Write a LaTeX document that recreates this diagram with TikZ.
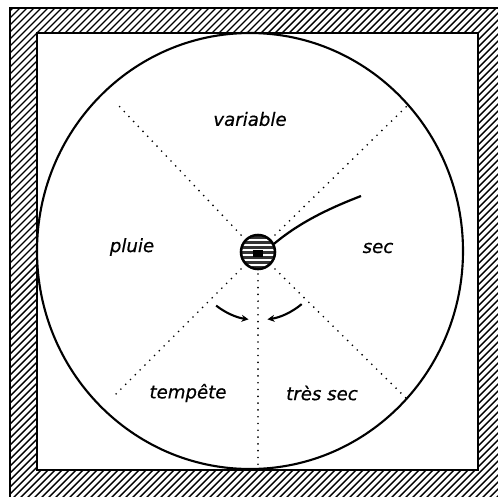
\documentclass[tikz,border=0pt]{standalone}
\usepackage{fontspec}
\setsansfont{DejaVu Sans}
\newfontfamily\lblfont{DejaVu Sans}[ItalicFeatures={FakeBold=0.6}]
\usetikzlibrary{arrows.meta, calc}
\tikzset{
  frm/.style={line width=1.8pt},
  hatch/.style={line width=1.2pt},
  dial/.style={line width=1.8pt},
  radial/.style={line width=1.6pt, line cap=round, dash pattern=on 0pt off 5.8pt},
  lbl/.style={font=\fontsize{15.5}{18}\selectfont\lblfont\itshape},
  swing/.style={line width=1.8pt, -{Stealth[length=6pt, width=6pt]}},
}

\begin{document}
\begin{tikzpicture}[
  x=0.03cm, y=-0.03cm,
  stripe/.style={line width=1.1pt, white},
]
  \useasboundingbox (0,0) rectangle (498,496);
  \clip (0,0) rectangle (498,496);

  % hatched frame
  \begin{scope}[even odd rule]
    \clip (10,8) rectangle (530,530) (37,33) rectangle (478,470);
    \foreach \k in {-540,-533,...,540}
      \draw[hatch] (\k,540) -- ++(540,-540);
  \end{scope}
  \draw[frm] (10,530) -- (10,8) -- (530,8);
  \draw[frm] (37,33) rectangle (478,470);

  % dial
  \coordinate (hub) at (258,252);
  \draw[dial] (250,251) ellipse [x radius=213, y radius=218];

  \coordinate (ur) at (409,104);
  \coordinate (ul) at (119,106);
  \coordinate (dl) at (113,397);
  \coordinate (dr) at (407,399);
  \coordinate (dn) at (258,470);
  \draw[radial] ($(hub)+(315:24)$) -- (ur);
  \draw[radial] ($(hub)+(225:24)$) -- (ul);
  \draw[radial] ($(hub)+(135:24)$) -- (dl);
  \draw[radial] ($(hub)+(45:24)$) -- (dr);
  \draw[radial] ($(hub)+(90:22)$) -- (dn);

  % hub and needle
  \coordinate (tip) at (361,196);
  \draw[line width=1.9pt] ($(hub)+(-27:18)$) .. controls (300,222) and (330,208) .. (tip);
  \begin{scope}
    \clip (hub) circle[radius=16];
    \fill[black!80] (hub) circle[radius=16];
    \foreach \k in {-12,-7,...,14}
      \draw[stripe] ($(hub)+(-17,\k)$) -- ++(34,0);
    \fill ($(hub)+(-5,-2)$) rectangle ($(hub)+(5,5)$);
  \end{scope}
  \draw[line width=2.2pt] (hub) circle[radius=17];

  % swing arrows
  \draw[swing] ($(hub)+(128:68)$) arc[start angle=128, end angle=98, radius=68];
  \draw[swing] ($(hub)+(50:68)$) arc[start angle=50, end angle=82, radius=68];

  \node[lbl] (variable) at (250,119) {variable};
  \node[lbl] (pluie) at (132,247) {pluie};
  \node[lbl] (sec) at (378,248) {sec};
  \node[lbl] (tempete) at (188,393) {tempête};
  \node[lbl] (tressec) at (322,393) {très sec};
\end{tikzpicture}
\end{document}
